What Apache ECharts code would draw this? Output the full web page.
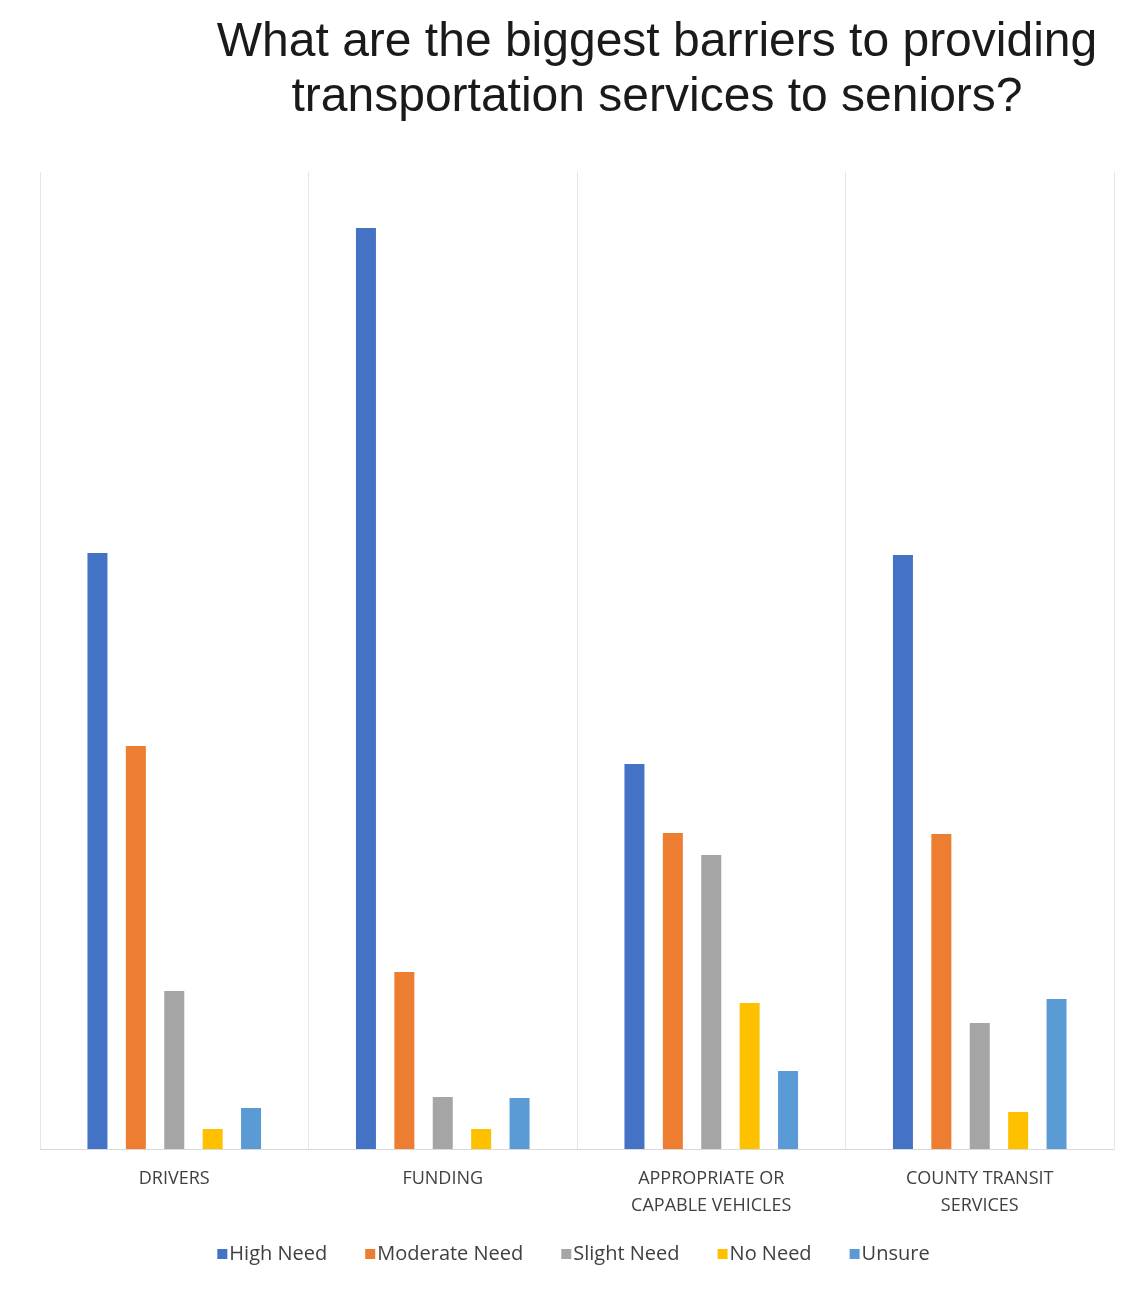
<!DOCTYPE html>
<html><head><meta charset="utf-8">
<script src="https://cdn.jsdelivr.net/npm/echarts@6/dist/echarts.min.js"></script>
<style>html,body{margin:0;padding:0;background:#fff}#c{width:1147px;height:1289px}</style>
</head><body><div id="c"></div>
<script>
const categories = ['DRIVERS', 'FUNDING', 'APPROPRIATE OR\nCAPABLE VEHICLES', 'COUNTY TRANSIT\nSERVICES'];
const seriesNames = ['High Need', 'Moderate Need', 'Slight Need', 'No Need', 'Unsure'];
const highNeed = [59.6, 92.1, 38.5, 59.4];
const moderateNeed = [40.3, 17.7, 31.6, 31.5];
const slightNeed = [15.8, 5.2, 29.4, 12.6];
const noNeed = [2.0, 2.0, 14.6, 3.7];
const unsure = [4.1, 5.1, 7.8, 15.0];
const colors = ['#4472C4', '#ED7D31', '#A5A5A5', '#FFC000', '#5B9BD5'];
const values = [highNeed, moderateNeed, slightNeed, noNeed, unsure];

const chart = echarts.init(document.getElementById('c'));
chart.setOption({
  backgroundColor: '#ffffff',
  title: {
    text: 'What are the biggest barriers to providing\ntransportation services to seniors?',
    left: 652, top: 10, textAlign: 'center',
    textStyle: { fontFamily: 'Liberation Sans, Arial', fontSize: 48, fontWeight: 'normal', color: '#1a1a1a', lineHeight: 55 }
  },
  legend: {
    data: seriesNames, bottom: 20, left: 'center',
    icon: 'rect', itemWidth: 10, itemHeight: 10, itemGap: 38,
    textStyle: { fontFamily: 'Open Sans, Noto Sans, sans-serif', fontSize: 20, color: '#404040', padding: [0, 0, 0, -3] }
  },
  grid: { left: 40, right: 33, top: 172, bottom: 140 },
  xAxis: {
    type: 'category', data: categories,
    axisTick: { show: false },
    axisLine: { lineStyle: { color: '#d9d9d9', width: 1 } },
    splitLine: { show: true, lineStyle: { color: '#e6e6e6', width: 1 } },
    axisLabel: { margin: 16, fontFamily: 'Open Sans, Noto Sans, sans-serif', fontSize: 18, color: '#404040', lineHeight: 27 }
  },
  yAxis: { type: 'value', min: 0, max: 97.7, show: false, splitLine: { show: false } },
  series: seriesNames.map((n, i) => ({
    name: n, type: 'bar', data: values[i], barWidth: 20, barGap: '92%',
    itemStyle: { color: colors[i] }
  }))
});
</script></body></html>
